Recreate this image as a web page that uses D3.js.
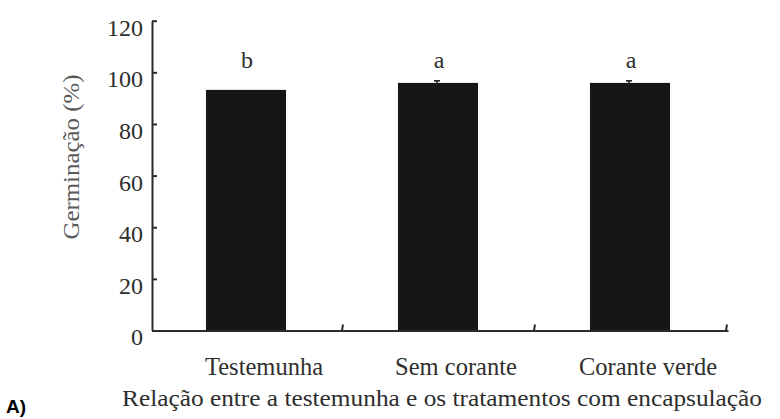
<!DOCTYPE html>
<html>
<head>
<meta charset="utf-8">
<script src="https://cdn.jsdelivr.net/npm/d3@7"></script>
<style>
  html, body { margin: 0; padding: 0; background: #fff; }
  svg { display: block; }
</style>
</head>
<body>
<svg id="chart" width="780" height="419"></svg>
<script>
// ---- data ----
const categories = ["Testemunha", "Sem corante", "Corante verde"];
const values = [93.2, 95.9, 95.9];
const errors = [0, 0.8, 0.8];
const letters = ["b", "a", "a"];
const yTicks = [0, 20, 40, 60, 80, 100, 120];
const yLabel = "Germinação (%)";
const xLabel = "Relação entre a testemunha e os tratamentos com encapsulação";
const panelLabel = "A)";

// ---- layout ----
const svg = d3.select("#chart");
const serif = "'Liberation Serif', 'Times New Roman', serif";
const axisColor = "#2b2b2b";
const textColor = "#2e2e2e";

const y = d3.scaleLinear().domain([0, 120]).range([330.5, 20.7]);
const x = d3.scaleBand().domain(categories).range([152, 728])
  .paddingInner(0.583).paddingOuter(0.2915);

// bars
svg.append("g").selectAll("rect").data(categories).join("rect")
  .attr("x", d => x(d) - 2)
  .attr("y", (d, i) => y(values[i]))
  .attr("width", x.bandwidth())
  .attr("height", (d, i) => y(0) - y(values[i]))
  .attr("fill", "#151618");

// error bars (tiny)
const eb = svg.append("g").attr("stroke", "#151618").attr("stroke-width", 1.5);
categories.forEach((c, i) => {
  if (errors[i] <= 0) return;
  const cx = x(c) + x.bandwidth() / 2 - 3;
  eb.append("line").attr("x1", cx).attr("x2", cx)
    .attr("y1", y(values[i])).attr("y2", y(values[i] + errors[i]));
  eb.append("line").attr("x1", cx - 3).attr("x2", cx + 3)
    .attr("y1", y(values[i] + errors[i])).attr("y2", y(values[i] + errors[i]));
});

// significance letters
svg.append("g").selectAll("text").data(categories).join("text")
  .attr("x", d => x(d) + x.bandwidth() / 2 - 1)
  .attr("y", y(101.5))
  .attr("text-anchor", "middle")
  .attr("font-family", serif)
  .attr("font-size", 24)
  .attr("fill", textColor)
  .text((d, i) => letters[i]);

// y axis
const yAxis = svg.append("g")
  .attr("transform", `translate(${x.range()[0]},0)`)
  .call(d3.axisLeft(y).tickValues(yTicks).tickSizeInner(-5).tickSizeOuter(0).tickPadding(9));
yAxis.select(".domain").attr("stroke", axisColor).attr("stroke-width", 2);
yAxis.selectAll(".tick line").attr("stroke", axisColor).attr("stroke-width", 2);
yAxis.selectAll(".tick text")
  .attr("font-family", serif).attr("font-size", 24)
  .attr("fill", textColor).attr("dy", "0.6em");

// x axis
const xAxis = svg.append("g")
  .attr("transform", `translate(0,${y(0)})`)
  .call(d3.axisBottom(x).tickSize(0).tickSizeOuter(0));
xAxis.select(".domain").attr("stroke", axisColor).attr("stroke-width", 2);
xAxis.selectAll(".tick text")
  .attr("font-family", serif).attr("font-size", 24.5)
  .attr("fill", textColor)
  .attr("dy", null).attr("y", 44.5).attr("dx", 16);

// small boundary ticks on the x axis
const x0 = x.range()[0];
svg.append("g").selectAll("line").data(categories).join("line")
  .attr("x1", (d, i) => x0 + (i + 1) * x.step() - 2)
  .attr("x2", (d, i) => x0 + (i + 1) * x.step() - 1)
  .attr("y1", y(0))
  .attr("y2", y(0) - 6)
  .attr("stroke", axisColor).attr("stroke-width", 2);

// axis titles
svg.append("text")
  .attr("transform", `translate(79,157) rotate(-90)`)
  .attr("text-anchor", "middle")
  .attr("font-family", serif).attr("font-size", 24)
  .attr("textLength", 165).attr("lengthAdjust", "spacingAndGlyphs")
  .attr("fill", "#5a5a5a")
  .text(yLabel);

svg.append("text")
  .attr("x", 442).attr("y", 406)
  .attr("text-anchor", "middle")
  .attr("font-family", serif).attr("font-size", 24)
  .attr("textLength", 640).attr("lengthAdjust", "spacingAndGlyphs")
  .attr("fill", textColor)
  .text(xLabel);

svg.append("text")
  .attr("x", 6).attr("y", 413)
  .attr("font-family", "'Liberation Sans', Arial, sans-serif")
  .attr("font-weight", "bold").attr("font-size", 19)
  .attr("fill", "#000")
  .text(panelLabel);
</script>
</body>
</html>
